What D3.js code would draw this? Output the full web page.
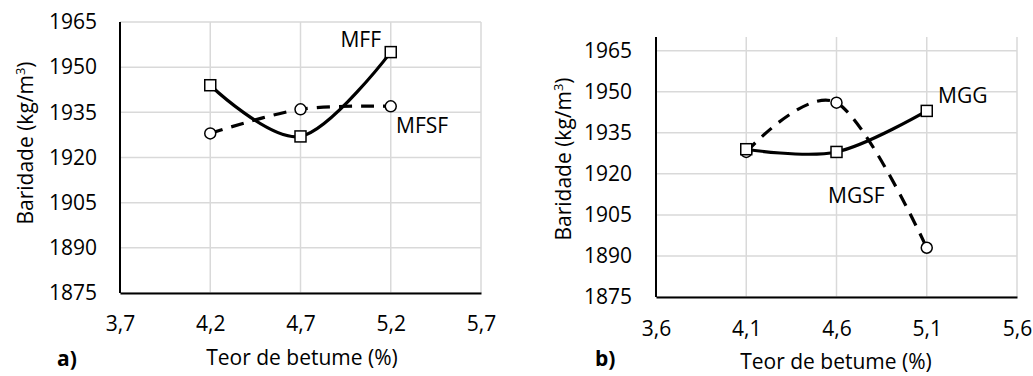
<!DOCTYPE html>
<html>
<head>
<meta charset="utf-8">
<script src="https://cdn.jsdelivr.net/npm/d3@7"></script>
<style>
  body { margin: 0; background: #fff; }
  svg text { font-family: "Open Sans", Lato, sans-serif; fill: #000; }
</style>
</head>
<body>
<script>
var width = 1033, height = 376;

// chart a) data
var xA = [4.2, 4.7, 5.2];
var mff = [1944, 1927, 1955];
var mfsf = [1928, 1936, 1937];
var xTicksA = [3.7, 4.2, 4.7, 5.2, 5.7];

// chart b) data
var xB = [4.1, 4.6, 5.1];
var mgg = [1929, 1928, 1943];
var mgsf = [1928, 1946, 1893];
var xTicksB = [3.6, 4.1, 4.6, 5.1, 5.6];

var yTicks = [1875, 1890, 1905, 1920, 1935, 1950, 1965];

var fs = 21;

var svg = d3.select("body")
            .append("svg")
            .attr("width", width)
            .attr("height", height);

var fmt = function(d) { return d3.format(".1f")(d).replace(".", ","); };

function drawChart(opt) {
  var g = svg.append("g");

  var x = d3.scaleLinear().domain(opt.xDomain).range([opt.left, opt.right]);
  var y = d3.scaleLinear().domain(opt.yDomain).range([opt.bottom, opt.top]);

  // gridlines
  g.selectAll(".hgrid")
   .data(yTicks)
   .enter()
   .append("line")
   .attr("x1", opt.left).attr("x2", opt.right)
   .attr("y1", function(d) { return y(d); })
   .attr("y2", function(d) { return y(d); })
   .attr("stroke", "#d9d9d9")
   .attr("stroke-width", 1.5);

  g.selectAll(".vgrid")
   .data(opt.xTicks)
   .enter()
   .append("line")
   .attr("x1", function(d) { return x(d); })
   .attr("x2", function(d) { return x(d); })
   .attr("y1", opt.top).attr("y2", opt.bottom)
   .attr("stroke", "#d9d9d9")
   .attr("stroke-width", 1.5);

  // axes with no ticks, Excel style
  var yAxis = g.append("g")
               .attr("transform", "translate(" + opt.left + ",0)")
               .call(d3.axisLeft(y).tickValues(yTicks).tickFormat(d3.format("d"))
                       .tickSize(0).tickPadding(opt.left - opt.yLabelX));
  var xAxis = g.append("g")
               .attr("transform", "translate(0," + opt.bottom + ")")
               .call(d3.axisBottom(x).tickValues(opt.xTicks).tickFormat(fmt)
                       .tickSize(0).tickPadding(opt.xLabelPad));
  [yAxis, xAxis].forEach(function(a) {
    a.attr("font-family", null).attr("font-size", null);
    a.select(".domain").attr("stroke", "#000").attr("stroke-width", 2);
    a.selectAll("text").attr("font-size", fs);
  });
  yAxis.select(".domain").attr("d", "M0," + opt.top + "V" + opt.bottom);

  var line = d3.line()
               .x(function(d) { return x(d[0]); })
               .y(function(d) { return y(d[1]); })
               .curve(d3.curveCardinal.tension(0));

  var dashed = d3.zip(opt.xs, opt.dashed);
  var solid = d3.zip(opt.xs, opt.solid);

  g.append("path")
   .attr("d", line(dashed))
   .attr("fill", "none")
   .attr("stroke", "#000")
   .attr("stroke-width", 3.2)
   .attr("stroke-dasharray", "13,9");

  g.append("path")
   .attr("d", line(solid))
   .attr("fill", "none")
   .attr("stroke", "#000")
   .attr("stroke-width", 3.2);

  g.selectAll(".circ")
   .data(dashed)
   .enter()
   .append("circle")
   .attr("cx", function(d) { return x(d[0]); })
   .attr("cy", function(d) { return y(d[1]); })
   .attr("r", 5.5)
   .attr("fill", "#fff")
   .attr("stroke", "#000")
   .attr("stroke-width", 1.5);

  g.selectAll(".sq")
   .data(solid)
   .enter()
   .append("rect")
   .attr("x", function(d) { return x(d[0]) - 5.5; })
   .attr("y", function(d) { return y(d[1]) - 5.5; })
   .attr("width", 11)
   .attr("height", 11)
   .attr("fill", "#fff")
   .attr("stroke", "#000")
   .attr("stroke-width", 1.5);

  // series labels
  opt.labels.forEach(function(l) {
    g.append("text")
     .attr("x", l.x).attr("y", l.y)
     .attr("text-anchor", l.anchor)
     .attr("font-size", fs)
     .text(l.text);
  });

  // y title
  var yt = g.append("text")
            .attr("transform", "translate(" + opt.yTitleX + "," + opt.yTitleY + ") rotate(-90)")
            .attr("text-anchor", "middle")
            .attr("font-size", fs);
  yt.append("tspan").text("Baridade (kg/m");
  yt.append("tspan").attr("font-size", 13).attr("dy", -8).text("3");
  yt.append("tspan").attr("dy", 8).text(")");

  // x title
  g.append("text")
   .attr("x", opt.xTitleX).attr("y", opt.xTitleY)
   .attr("text-anchor", "middle")
   .attr("font-size", fs)
   .text("Teor de betume (%)");

  g.append("text")
   .attr("x", opt.tagX).attr("y", opt.tagY)
   .attr("font-size", fs)
   .attr("font-weight", "bold")
   .text(opt.tag);
}

drawChart({
  xDomain: [3.7, 5.7], yDomain: [1875, 1965],
  left: 120, right: 481, top: 22, bottom: 293,
  xTicks: xTicksA, xs: xA, solid: mff, dashed: mfsf,
  yLabelX: 97, xLabelPad: 23,
  yTitleX: 33, yTitleY: 143,
  xTitleX: 302, xTitleY: 365,
  tag: "a)", tagX: 57, tagY: 366,
  labels: [
    {text: "MFF", x: 381, y: 47, anchor: "end"},
    {text: "MFSF", x: 396, y: 133, anchor: "start"}
  ]
});

drawChart({
  xDomain: [3.6, 5.6], yDomain: [1875, 1970],
  left: 656, right: 1017, top: 37, bottom: 297,
  xTicks: xTicksB, xs: xB, solid: mgg, dashed: mgsf,
  yLabelX: 632, xLabelPad: 24,
  yTitleX: 571, yTitleY: 159,
  xTitleX: 836, xTitleY: 369,
  tag: "b)", tagX: 595, tagY: 366,
  labels: [
    {text: "MGG", x: 938, y: 103, anchor: "start"},
    {text: "MGSF", x: 828, y: 203, anchor: "start"}
  ]
});
</script>
</body>
</html>
